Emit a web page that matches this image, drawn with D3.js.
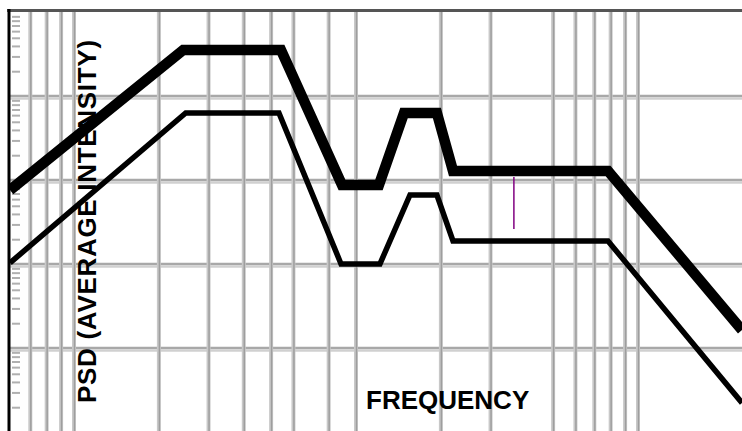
<!DOCTYPE html>
<html>
<head>
<meta charset="utf-8">
<script src="https://cdn.jsdelivr.net/npm/d3@7"></script>
<style>
  html, body { margin: 0; padding: 0; background: #fff; }
  svg { display: block; }
</style>
</head>
<body>
<script>
// Log-log PSD envelope: two vibration profiles over a decade grid.

// Vertical grid lines (frequency, Hz)
const freqGrid = [7, 8, 9, 10, 20, 30, 40, 50, 60, 80, 100, 200, 300, 500, 600, 700, 800, 900, 1000];
// Horizontal grid lines (PSD decades)
const psdMajor = [0.001, 0.01, 0.1, 1];
// Decades that carry minor ticks on the PSD axis
const psdDecades = [0.0001, 0.001, 0.01, 0.1, 1];

// Upper (heavy) profile
const upperFreq = [5.93, 24.4, 54.2, 89.2, 120.6, 148, 193.6, 220.8, 782.8, 2338];
const upperPsd  = [0.078, 3.63, 3.63, 0.0896, 0.0896, 0.645, 0.645, 0.1316, 0.1316, 0.00168];

// Lower (light) profile
const lowerFreq = [5.93, 24.9, 53.3, 88.5, 121.6, 155.4, 193.6, 220.8, 782.8, 2338];
const lowerPsd  = [0.0106, 0.645, 0.645, 0.0103, 0.0103, 0.0681, 0.0681, 0.0193, 0.0193, 0.000228];

// Marker segment
const markerFreq = [363];
const markerPsd = [0.1116, 0.0268];

const xLabel = "FREQUENCY";
const yLabel = "PSD (AVERAGE INTENSITY)";

const W = 742, H = 431;
const plotLeft = 10, plotTop = 11;

const x = d3.scaleLog().domain([10, 1000]).range([74, 638]);
const y = d3.scaleLog().domain([0.001, 1]).range([349, 97]);

const svg = d3.select("body").append("svg")
  .attr("width", W).attr("height", H)
  .style("font-family", "'Liberation Sans', Arial, Helvetica, sans-serif");

svg.append("rect").attr("width", W).attr("height", H).attr("fill", "#fff");

svg.append("clipPath").attr("id", "plot")
  .append("rect").attr("x", plotLeft).attr("y", plotTop)
  .attr("width", W - plotLeft).attr("height", H - plotTop);

const grid = svg.append("g").attr("clip-path", "url(#plot)");

// Horizontal decade lines: darker upper edge, lighter lower edge
grid.selectAll("line.hg").data(psdMajor).join("line")
  .attr("class", "hg")
  .attr("x1", plotLeft).attr("x2", W)
  .attr("y1", d => y(d) - 1).attr("y2", d => y(d) - 1)
  .attr("stroke", "#a8a8a8").attr("stroke-width", 2.5);
grid.selectAll("line.hg2").data(psdMajor).join("line")
  .attr("class", "hg2")
  .attr("x1", plotLeft).attr("x2", W)
  .attr("y1", d => y(d) + 1.5).attr("y2", d => y(d) + 1.5)
  .attr("stroke", "#d0d0d0").attr("stroke-width", 2.5);

// Vertical frequency lines: light band with a darker core
grid.selectAll("line.vg").data(freqGrid).join("line")
  .attr("class", "vg")
  .attr("x1", d => x(d)).attr("x2", d => x(d))
  .attr("y1", plotTop).attr("y2", H)
  .attr("stroke", "#c8c8c8").attr("stroke-width", 4);
grid.selectAll("line.vg2").data(freqGrid).join("line")
  .attr("class", "vg2")
  .attr("x1", d => x(d) + 0.5).attr("x2", d => x(d) + 0.5)
  .attr("y1", plotTop).attr("y2", H)
  .attr("stroke", "#9e9e9e").attr("stroke-width", 1.5);

// Minor log ticks along the PSD axis
const minor = [];
psdDecades.forEach(dec => { for (let k = 2; k <= 9; k++) minor.push(dec * k); });
grid.selectAll("line.mt").data(minor.filter(v => y(v) > plotTop + 1 && y(v) < H)).join("line")
  .attr("class", "mt")
  .attr("x1", plotLeft + 2).attr("x2", plotLeft + 10)
  .attr("y1", d => y(d)).attr("y2", d => y(d))
  .attr("stroke", "#b0b0b0").attr("stroke-width", 2);

// Axis titles
svg.append("text")
  .attr("transform", "translate(96,403) rotate(-90)")
  .attr("font-size", 26).attr("font-weight", "bold")
  .attr("letter-spacing", 0.7)
  .attr("fill", "#000")
  .text(yLabel);

svg.append("text")
  .attr("x", 366).attr("y", 409)
  .attr("font-size", 26).attr("font-weight", "bold")
  .attr("fill", "#000")
  .text(xLabel);

// Profiles
const line = d3.line().x(d => x(d[0])).y(d => y(d[1]));
const curves = svg.append("g").attr("clip-path", "url(#plot)");

curves.append("path")
  .datum(lowerFreq.map((f, i) => [f, lowerPsd[i]]))
  .attr("d", line)
  .attr("fill", "none").attr("stroke", "#000")
  .attr("stroke-width", 5.5).attr("stroke-linejoin", "miter");

curves.append("path")
  .datum(upperFreq.map((f, i) => [f, upperPsd[i]]))
  .attr("d", line)
  .attr("fill", "none").attr("stroke", "#000")
  .attr("stroke-width", 10.5).attr("stroke-linejoin", "miter");

// Marker
svg.selectAll("line.mk").data(markerFreq).join("line")
  .attr("class", "mk")
  .attr("x1", d => x(d)).attr("x2", d => x(d))
  .attr("y1", y(markerPsd[0])).attr("y2", y(markerPsd[1]))
  .attr("stroke", "#800080").attr("stroke-width", 1.5);

// Frame: top rule and left axis
svg.append("line")
  .attr("x1", 7).attr("x2", W).attr("y1", 10.5).attr("y2", 10.5)
  .attr("stroke", "#555").attr("stroke-width", 3);
svg.append("line")
  .attr("x1", 9).attr("x2", 9).attr("y1", 9).attr("y2", H)
  .attr("stroke", "#000").attr("stroke-width", 3);
</script>
</body>
</html>
